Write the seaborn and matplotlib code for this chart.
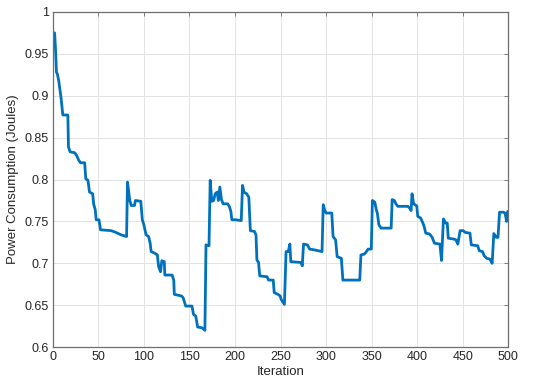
import numpy as np
import pandas as pd
import matplotlib
matplotlib.use('Agg')
import matplotlib.pyplot as plt
from matplotlib.ticker import FuncFormatter
import seaborn as sns

# Values (iteration breakpoints, power in Joules), 10 per row
iteration = [1, 2, 3, 4, 5, 6.5, 9, 11, 16.5, 17.2,
             19, 24, 26, 28.5, 30.5, 35, 36.2, 38.6, 40.3, 43.8,
             44.8, 46.6, 47.6, 50.7, 52.4, 64, 69, 75, 81, 82,
             84.5, 86.2, 89.7, 90.7, 96.6, 98.3, 100, 102.4, 105.2, 106.9,
             108, 112, 114.8, 116.2, 118.3, 119.7, 122.4, 123, 131, 132.8,
             133.4, 141.4, 143.1, 145.9, 152.8, 154.5, 157, 159, 164, 167,
             168.2, 171.5, 172.8, 174.6, 176.6, 178.3, 180.5, 181.7, 183.4, 185.2,
             187, 192, 193.8, 195.5, 196.6, 200.7, 206.9, 208.3, 210, 212.8,
             215.2, 216.9, 221.4, 223.1, 224.1, 225.9, 227.2, 235.2, 236.9, 242,
             243.1, 247.2, 249.7, 250.7, 254.3, 256.1, 258.5, 260.3, 261.3, 272.5,
             273.9, 275.3, 279.5, 282, 287.5, 291.5, 295.6, 296.9, 298.6, 300.2,
             306.3, 307.7, 310.5, 312.2, 316.8, 318.5, 337, 338.3, 342, 343.7,
             346.2, 349.7, 350.9, 353.5, 355.2, 356.3, 358, 360.4, 371.5, 372.6,
             375, 376.7, 378.8, 389.9, 391.7, 393.4, 394.4, 396.2, 399.6, 400.7,
             403.9, 406, 407.7, 409.5, 413.7, 416.5, 419, 425, 426.8, 428.9,
             431.3, 433.1, 434.2, 440.1, 442.6, 444.7, 447.2, 450.7, 452.5, 458,
             459.5, 466.5, 468.3, 471.8, 473.6, 476.4, 479.9, 482.4, 484.2, 487,
             488.8, 490.5, 494.7, 496.5, 498.3, 499.5]
power = [0.973, 0.975, 0.955, 0.928, 0.926, 0.918, 0.898, 0.877, 0.877, 0.839,
         0.833, 0.832, 0.829, 0.823, 0.820, 0.820, 0.801, 0.799, 0.785, 0.783,
         0.771, 0.764, 0.752, 0.752, 0.740, 0.739, 0.737, 0.734, 0.732, 0.797,
         0.775, 0.769, 0.769, 0.775, 0.774, 0.752, 0.746, 0.734, 0.732, 0.724,
         0.714, 0.712, 0.710, 0.696, 0.690, 0.703, 0.702, 0.686, 0.686, 0.680,
         0.663, 0.661, 0.659, 0.649, 0.649, 0.639, 0.637, 0.624, 0.623, 0.620,
         0.722, 0.721, 0.799, 0.774, 0.775, 0.783, 0.785, 0.775, 0.791, 0.776,
         0.771, 0.771, 0.768, 0.762, 0.752, 0.752, 0.751, 0.793, 0.785, 0.783,
         0.779, 0.739, 0.738, 0.734, 0.704, 0.701, 0.685, 0.684, 0.680, 0.680,
         0.665, 0.663, 0.661, 0.657, 0.651, 0.714, 0.714, 0.723, 0.702, 0.701,
         0.697, 0.723, 0.722, 0.717, 0.716, 0.715, 0.714, 0.770, 0.763, 0.760,
         0.760, 0.732, 0.728, 0.708, 0.706, 0.680, 0.680, 0.710, 0.711, 0.713,
         0.717, 0.717, 0.775, 0.773, 0.764, 0.760, 0.746, 0.742, 0.742, 0.776,
         0.775, 0.771, 0.768, 0.768, 0.766, 0.763, 0.783, 0.771, 0.7685, 0.756,
         0.754, 0.749, 0.744, 0.736, 0.735, 0.731, 0.724, 0.723, 0.7035, 0.753,
         0.748, 0.748, 0.730, 0.729, 0.728, 0.723, 0.739, 0.739, 0.737, 0.736,
         0.722, 0.721, 0.715, 0.714, 0.709, 0.706, 0.705, 0.700, 0.7355, 0.731,
         0.731, 0.761, 0.761, 0.760, 0.750, 0.762]

x_ticks = [0, 50, 100, 150, 200, 250, 300, 350, 400, 450, 500]
y_ticks = [0.6, 0.65, 0.7, 0.75, 0.8, 0.85, 0.9, 0.95, 1.0]

df = pd.DataFrame({'Iteration': iteration, 'Power': power})

sns.set_style('whitegrid')
plt.rcParams['font.family'] = ['Liberation Sans', 'DejaVu Sans']

fig = plt.figure(figsize=(5.5, 3.84), dpi=100)
ax = fig.add_axes([0.096, 0.096, 0.828, 0.873])

sns.lineplot(data=df, x='Iteration', y='Power', estimator=None, sort=False,
             color='#0072BD', linewidth=2.0, ax=ax)

ax.set_xlim(0, 500)
ax.set_ylim(0.6, 1.0)
ax.set_xticks(x_ticks)
ax.set_yticks(y_ticks)
ax.yaxis.set_major_formatter(FuncFormatter(lambda v, p: '%g' % round(v, 2)))

ax.grid(True, color='#e3e3e3', linewidth=0.7)
for s in ax.spines.values():
    s.set_color('#6e6e6e')
    s.set_linewidth(0.9)
ax.tick_params(direction='in', length=3, width=0.6, colors='#262626',
               labelsize=9, top=True, right=True, pad=3)
ax.tick_params(axis='both', which='both', color='#6e6e6e')

ax.set_xlabel('Iteration', fontsize=9.5, color='#262626', labelpad=2)
ax.set_ylabel('Power Consumption (Joules)', fontsize=9.5, color='#262626', labelpad=4)

fig.savefig('out.png', dpi=100)
